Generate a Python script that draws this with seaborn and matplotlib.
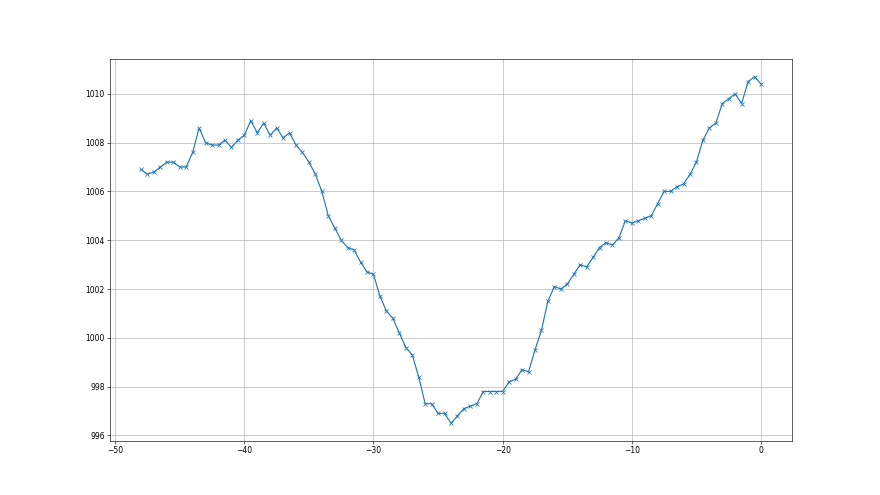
import numpy as np
import matplotlib
matplotlib.use("Agg")
import matplotlib.pyplot as plt
import seaborn as sns

# time offsets (hours), step of 0.5
horas = [-48.0 + 0.5 * i for i in range(97)]

# pressure readings (hPa)
pressao = [
    1006.9, 1006.7, 1006.8, 1007.0, 1007.2, 1007.2, 1007.0, 1007.0, 1007.6, 1008.6,
    1008.0, 1007.9, 1007.9, 1008.1, 1007.8, 1008.1, 1008.3, 1008.9, 1008.4, 1008.8,
    1008.3, 1008.6, 1008.2, 1008.4, 1007.9, 1007.6, 1007.2, 1006.7, 1006.0, 1005.0,
    1004.5, 1004.0, 1003.7, 1003.6, 1003.1, 1002.7, 1002.6, 1001.7, 1001.1, 1000.8,
    1000.2, 999.6, 999.3, 998.4, 997.3, 997.3, 996.9, 996.9, 996.5, 996.8,
    997.1, 997.2, 997.3, 997.8, 997.8, 997.8, 997.8, 998.2, 998.3, 998.7,
    998.6, 999.5, 1000.3, 1001.5, 1002.1, 1002.0, 1002.2, 1002.6, 1003.0, 1002.9,
    1003.3, 1003.7, 1003.9, 1003.8, 1004.1, 1004.8, 1004.7, 1004.8, 1004.9, 1005.0,
    1005.5, 1006.0, 1006.0, 1006.2, 1006.3, 1006.7, 1007.2, 1008.1, 1008.6, 1008.8,
    1009.6, 1009.8, 1010.0, 1009.6, 1010.5, 1010.7, 1010.4,
]

fig, ax = plt.subplots(figsize=(16, 9), dpi=55)
sns.lineplot(x=np.array(horas), y=np.array(pressao), ax=ax,
             color="tab:blue", marker="x", markersize=6,
             markeredgecolor="tab:blue", markeredgewidth=1.0,
             linewidth=1.5)
ax.grid(True, color="#b0b0b0", linewidth=0.8)
ax.set_xlabel("")
ax.set_ylabel("")
plt.savefig("out.png", dpi=55)
